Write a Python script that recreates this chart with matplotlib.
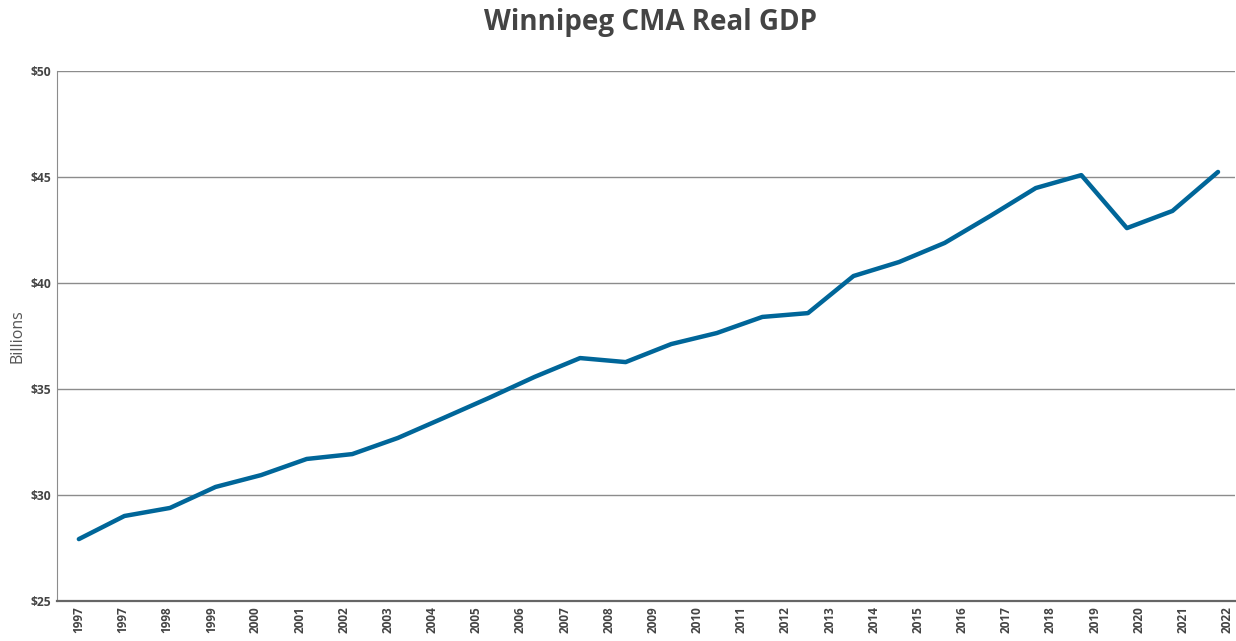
import numpy as np
import matplotlib.pyplot as plt

# Winnipeg CMA real GDP, billions of dollars
YEARS = list(range(1997, 2023))
GDP = [27.92, 29.01, 29.39, 30.38, 30.94, 31.70, 31.93, 32.69, 33.63, 34.58,
       35.57, 36.46, 36.27, 37.12, 37.64, 38.40, 38.58, 40.33, 40.99, 41.89,
       43.16, 44.48, 45.09, 42.59, 43.40, 45.24]

# axis labels as they appear (date axis repeats 1997)
TICK_LABELS = ["1997", "1997", "1998", "1999", "2000", "2001", "2002", "2003",
               "2004", "2005", "2006", "2007", "2008", "2009", "2010", "2011",
               "2012", "2013", "2014", "2015", "2016", "2017", "2018", "2019",
               "2020", "2021", "2022"]
Y_TICKS = [25, 30, 35, 40, 45, 50]

LINE_COLOR = "#006699"
TEXT_COLOR = "#444444"

plt.rcParams['font.family'] = ['Open Sans', 'DejaVu Sans']

fig = plt.figure(figsize=(12.36, 6.41), dpi=100)
ax = fig.add_axes([0.0461, 0.0624, 0.953, 0.8268])

x = np.arange(len(YEARS))
ax.plot(x, GDP, color=LINE_COLOR, linewidth=3.2, solid_capstyle='round',
        zorder=3)

ax.set_xlim(-0.48, 25.37)
ax.set_ylim(25, 50)

ax.set_yticks(Y_TICKS)
ax.set_yticklabels([f"${v}" for v in Y_TICKS], fontsize=8.7, fontweight='bold',
                   color=TEXT_COLOR)
tick_pos = np.linspace(0, 25.2, len(TICK_LABELS))
ax.set_xticks(tick_pos)
ax.set_xticklabels(TICK_LABELS, rotation=90, fontsize=8.5, fontweight='bold',
                   color=TEXT_COLOR)
ax.tick_params(axis='both', length=0, pad=4)

ax.grid(axis='y', color='#8c8c8c', linewidth=1)
ax.set_axisbelow(True)
for side in ['top', 'right']:
    ax.spines[side].set_visible(False)
ax.spines['left'].set_color('#8c8c8c')
ax.spines['bottom'].set_color('#666666')
ax.spines['bottom'].set_linewidth(1.6)

ax.set_ylabel("Billions", fontsize=11.5, color='#555555', labelpad=4)
fig.text(0.526, 0.965, "Winnipeg CMA Real GDP", ha='center', va='center',
         fontsize=20, fontweight='bold', color=TEXT_COLOR)

fig.savefig("out.png", dpi=100)
